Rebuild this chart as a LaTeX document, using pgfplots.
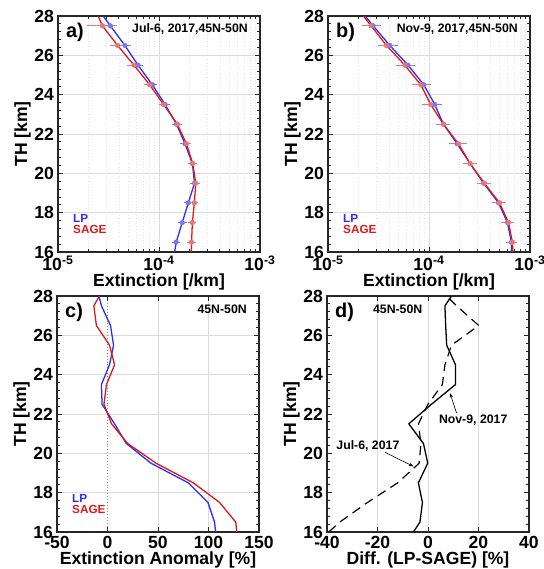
\documentclass[border=0pt]{standalone}
\usepackage{fontspec}
\setmainfont{Liberation Sans}
\usepackage{pgfplots}
\usepackage{pgfplotstable}
\pgfplotsset{compat=1.18}
\usetikzlibrary{arrows.meta}

\definecolor{lpblue}{RGB}{45,45,245}
\definecolor{sagered}{RGB}{220,25,25}

% Jul-6 profiles (panel a)
\pgfplotstableread{
y    lp      sage    lpe  sap  sam
16   1.43e-4 2.09e-4 0    0    0
16.5 1.48e-4 2.10e-4 0.04 0.04 0.04
17.5 1.70e-4 2.14e-4 0.05 0.04 0.04
18.5 1.95e-4 2.24e-4 0.05 0.04 0.04
19.5 2.25e-4 2.31e-4 0.04 0.04 0.04
20.5 2.14e-4 2.16e-4 0.04 0.04 0.04
21.5 1.81e-4 1.87e-4 0.05 0.05 0.05
22.5 1.49e-4 1.52e-4 0.05 0.05 0.05
23.5 1.15e-4 1.11e-4 0.06 0.06 0.06
24.5 8.6e-5  8.1e-5  0.06 0.07 0.07
25.5 6.2e-5  5.65e-5 0.07 0.09 0.09
26.5 4.6e-5  3.9e-5  0.08 0.12 0.12
27.5 3.3e-5  2.75e-5 0.08 0.32 0.25
28   2.8e-5  2.5e-5  0    0    0
}\tabA

% Nov-9 profiles (panel b)
\pgfplotstableread{
y    lp      sage    lpe  sap  sam
16   6.55e-4 6.76e-4 0    0    0
16.5 6.55e-4 6.70e-4 0.06 0.06 0.06
17.5 5.98e-4 6.12e-4 0.08 0.08 0.08
18.5 4.88e-4 4.99e-4 0.10 0.11 0.11
19.5 3.47e-4 3.53e-4 0.10 0.11 0.11
20.5 2.55e-4 2.55e-4 0.11 0.11 0.11
21.5 1.90e-4 1.96e-4 0.12 0.14 0.14
22.5 1.39e-4 1.39e-4 0.10 0.10 0.10
23.5 1.14e-4 1.04e-4 0.12 0.13 0.13
24.5 8.9e-5  8.3e-5  0.12 0.14 0.14
25.5 6.2e-5  5.76e-5 0.12 0.14 0.14
26.5 4.1e-5  3.8e-5  0.13 0.14 0.14
27.5 2.8e-5  2.67e-5 0.13 0.15 0.15
28   2.33e-5 2.24e-5 0    0    0
}\tabB

% anomaly (panel c)
\pgfplotstableread{
y    lp    sage
16   107   128
16.5 106   127
17.5 99.5  111
18.5 80    85
19.5 43    48
20.5 18.6  20
21.5 7     4
22.5 -5.4  -3.5
23.5 -6    -1
24.5 2     7
25.5 6     2
26.5 3     -11
27.5 -6    -13.5
28   -8.5  -8
}\tabC

% difference LP-SAGE (panel d)
\pgfplotstableread{
y    nov   jul
16   -5.8  -39.3
16.5 -3.2  -35
17.5 -2.2  -24
18.5 -3.8  -12
19.5 -0.1  -3.5
20.5 -1.8  -2.8
21.5 -7.6  -3.8
22.5 1.4   0
23.5 10.9  5.7
24.5 10.9  6.7
25.5 7.4   9.3
26.5 7     20.1
27.5 6.7   11.3
28   9.3   7.4
}\tabD

\pgfplotsset{
  panel/.style={
    scale only axis, width=6.06cm, height=7.08cm, anchor=north west,
    ymin=16, ymax=28, ytick={16,18,...,28}, minor y tick num=4,
    tick align=inside,
    axis line style={black!85, line width=1.4pt},
    major tick length=0.15cm, minor tick length=0.08cm,
    every tick/.style={black!85, line width=0.7pt},
    tick label style={font=\fontsize{15}{17}\selectfont\bfseries},
    label style={font=\fontsize{15}{17}\selectfont\bfseries},
    ylabel={TH [km]},
    ylabel style={at={(axis description cs:-0.175,0.5)}, anchor=center},
    xlabel style={at={(axis description cs:0.5,-0.125)}, anchor=center},
    /pgf/number format/assume math mode=true,
    major grid style={black!14, line width=0.4pt},
    minor grid style={black!10, line width=0.4pt, dotted},
  },
  errs/.style={#1, only marks, mark=none, forget plot,
    skip coords between index={0}{1}, skip coords between index={13}{14},
    error bars/.cd, x dir=both, x explicit relative,
    error bar style={line width=0.6pt, #1},
    error mark options={mark size=2pt, line width=0.6pt, #1}},
}
\newcommand{\tag}[1]{\node[anchor=west, font=\fontsize{17}{19}\selectfont\bfseries] at (axis description cs:0.02,0.93) {#1};}
\newcommand{\note}[1]{\node[anchor=east, font=\fontsize{10.5}{12}\selectfont\bfseries] at (axis description cs:0.96,0.945) {#1};}
\newcommand{\leg}{%
  \node[anchor=west, font=\fontsize{10}{11}\selectfont\bfseries, text=lpblue] at (axis description cs:0.055,0.14) {LP};
  \node[anchor=west, font=\fontsize{10}{11}\selectfont\bfseries, text=sagered] at (axis description cs:0.055,0.095) {SAGE};}

\begin{document}
\begin{tikzpicture}
\useasboundingbox (0,0) rectangle (16.29,-17.07);

% a)
\begin{axis}[panel, at={(1.74cm,-0.48cm)},
  xmode=log, xmin=1e-5, xmax=1e-3, xtick={1e-5,1e-4,1e-3},
  xticklabels={10\textsuperscript{-5},10\textsuperscript{-4},10\textsuperscript{-3}},
  xmajorgrids, xminorgrids, ymajorgrids,
  xlabel={Extinction [/km]}]
\addplot[errs=lpblue!65] table[x=lp, y=y, x error=lpe] {\tabA};
\addplot[errs=sagered!60] table[x=sage, y=y, x error plus=sap, x error minus=sam] {\tabA};
\addplot[lpblue, line width=1.1pt] table[x=lp, y=y] {\tabA};
\addplot[sagered, line width=1.1pt] table[x=sage, y=y] {\tabA};
\tag{a)}
\note{Jul-6, 2017,45N-50N}
\leg
\end{axis}

% b)
\begin{axis}[panel, at={(9.84cm,-0.48cm)},
  xmode=log, xmin=1e-5, xmax=1e-3, xtick={1e-5,1e-4,1e-3},
  xticklabels={10\textsuperscript{-5},10\textsuperscript{-4},10\textsuperscript{-3}},
  xmajorgrids, xminorgrids, ymajorgrids,
  xlabel={Extinction [/km]}]
\addplot[errs=lpblue!65] table[x=lp, y=y, x error=lpe] {\tabB};
\addplot[errs=sagered!60] table[x=sage, y=y, x error plus=sap, x error minus=sam] {\tabB};
\addplot[lpblue, line width=1.1pt] table[x=lp, y=y] {\tabB};
\addplot[sagered, line width=1.1pt] table[x=sage, y=y] {\tabB};
\tag{b)}
\note{Nov-9, 2017,45N-50N}
\leg
\end{axis}

% c)
\begin{axis}[panel, at={(1.71cm,-8.88cm)},
  xmin=-50, xmax=150, xtick={-50,50,100,150},
  extra x ticks={0},
  extra x tick style={major grid style={black!45, line width=0.5pt, dotted}},
  xmajorgrids, ymajorgrids,
  xlabel={Extinction Anomaly [\%]},
  xlabel style={at={(axis description cs:0.5,-0.12)}}]
\addplot[lpblue, line width=1.1pt] table[x=lp, y=y] {\tabC};
\addplot[sagered, line width=1.1pt] table[x=sage, y=y] {\tabC};
\tag{c)}
\note{45N-50N}
\leg
\end{axis}

% d)
\begin{axis}[panel, at={(9.81cm,-8.88cm)},
  xmin=-40, xmax=40, xtick={-40,-20,...,40},
  xmajorgrids,
  xlabel={Diff. (LP-SAGE) [\%]},
  xlabel style={at={(axis description cs:0.5,-0.12)}}]
\addplot[black, line width=1.1pt] table[x=nov, y=y] {\tabD};
\addplot[black, line width=1.0pt, dash pattern=on 8pt off 5pt] table[x=jul, y=y] {\tabD};
\tag{d)}
\node[font=\fontsize{10.5}{12}\selectfont\bfseries] at (axis description cs:0.35,0.945) {45N-50N};
\node[font=\fontsize{10.5}{12}\selectfont\bfseries] at (axis cs:17.9,21.7) {Nov-9, 2017};
\draw[-{Stealth[length=4pt]}, line width=0.5pt] (axis cs:11.3,22.05) -- (axis cs:8.7,23.06);
\node[font=\fontsize{10.5}{12}\selectfont\bfseries] at (axis cs:-23.8,20.36) {Jul-6, 2017};
\draw[-{Stealth[length=4pt]}, line width=0.5pt] (axis cs:-17,20.05) -- (axis cs:-5.8,19.34);
\end{axis}
\end{tikzpicture}
\end{document}
